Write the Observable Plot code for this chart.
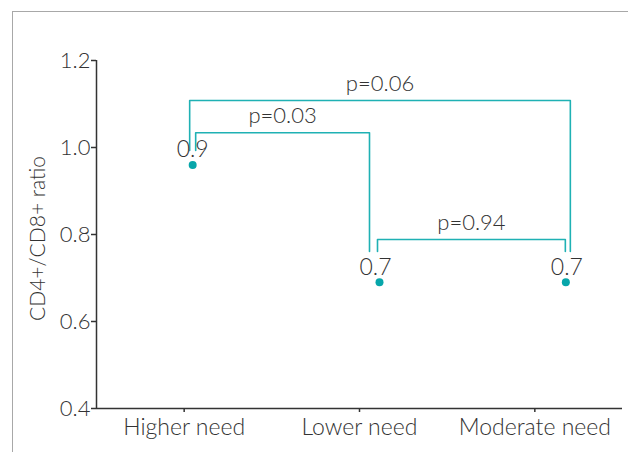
<!DOCTYPE html>
<html>
<head>
<meta charset="utf-8">
<script src="https://cdn.jsdelivr.net/npm/d3@7"></script>
<script src="https://cdn.jsdelivr.net/npm/@observablehq/plot@0.6"></script>
<style>
  html, body { margin: 0; padding: 0; background: #fff; }
  #wrap { position: relative; width: 628px; height: 452px; overflow: hidden; }
  #frame { position: absolute; left: 12px; top: 11px; width: 700px; height: 500px;
           border-left: 1.5px solid #a8a8a8; border-top: 1.5px solid #a8a8a8; }
  #chart { position: absolute; left: 0; top: 0; }
  svg { font-family: Lato, "Open Sans", sans-serif; font-weight: 300; }
</style>
</head>
<body>
<div id="wrap"><div id="frame"></div><div id="chart"></div></div>
<script>
// ---- data ----
const categories = ["Higher need", "Lower need", "Moderate need"];
const ratios = [0.96, 0.69, 0.69];
const ratioLabels = ["0.9", "0.7", "0.7"];
const yTicks = [0.4, 0.6, 0.8, 1.0, 1.2];
const yTickLabels = ["0.4", "0.6", "0.8", "1.0", "1.2"];
// comparisons: from/to category index, bracket height, leg bottom, p-value text
const cmpFrom = [0, 0, 1];
const cmpTo = [1, 2, 2];
const cmpTop = [1.034, 1.108, 0.7885];
const cmpLegBottomFrom = [0.993, 0.993, 0.761];
const cmpLegBottomTo = [0.761, 0.761, 0.761];
const cmpLabels = ["p=0.03", "p=0.06", "p=0.94"];

// ---- layout (pixel nudges, converted through the x scale) ----
const bandPx = 175.3;
const pointShiftPx = [8.5, 20, 31];
const labelShiftPx = [0, -4, 1];
const legShiftFromPx = [11.5, 5.5, 18];
const legShiftToPx = [10, 35.5, 30.5];
const teal = "#1fb1b4";
const ink = "#333333";

const points = categories.map((c, i) => ({i, x: i + pointShiftPx[i] / bandPx, y: ratios[i], label: ratioLabels[i],
  lx: i + (pointShiftPx[i] + labelShiftPx[i]) / bandPx}));

const paths = [];
const pLabels = [];
cmpLabels.forEach((p, k) => {
  const xa = cmpFrom[k] + legShiftFromPx[k] / bandPx;
  const xb = cmpTo[k] + legShiftToPx[k] / bandPx;
  paths.push({k, x: xa, y: cmpLegBottomFrom[k]});
  paths.push({k, x: xa, y: cmpTop[k]});
  paths.push({k, x: xb, y: cmpTop[k]});
  paths.push({k, x: xb, y: cmpLegBottomTo[k]});
  pLabels.push({x: (xa + xb) / 2, y: cmpTop[k], text: p});
});

const chart = Plot.plot({
  width: 628,
  height: 452,
  marginLeft: 96,
  marginRight: 6,
  marginTop: 60,
  marginBottom: 44,
  style: {fontSize: "22px", color: ink, background: "transparent", overflow: "visible"},
  x: {type: "linear", domain: [-0.5, 2.5]},
  y: {domain: [0.4, 1.2]},
  marks: [
    Plot.axisY({ticks: yTicks, tickFormat: (d, i) => yTickLabels[i], tickSize: 5, tickPadding: 1,
      fontSize: 22, label: null, stroke: ink, fill: ink, strokeWidth: 1.5}),
    Plot.text(["CD4+/CD8+ ratio"], {frameAnchor: "left", textAnchor: "middle", dx: -58, dy: 4, rotate: -90, fontSize: 21, fill: ink}),
    Plot.axisX({ticks: [0, 1, 2], tickFormat: i => categories[i], tickSize: 4, tickPadding: 6,
      fontSize: 23, label: null, stroke: ink, fill: ink, strokeWidth: 1.5}),
    Plot.ruleY([0.4], {stroke: ink, strokeWidth: 1.5}),
    Plot.ruleX([-0.5], {stroke: ink, strokeWidth: 1.5, y1: 0.4, y2: 1.2}),
    Plot.line(paths, {x: "x", y: "y", z: "k", stroke: teal, strokeWidth: 1.6, curve: "linear"}),
    Plot.text(pLabels, {x: "x", y: "y", text: "text", dy: -17, fontSize: 22, fill: ink}),
    Plot.dot(points, {x: "x", y: "y", r: 4, fill: "#07a6aa", stroke: "none"}),
    Plot.text(points, {x: "lx", y: "y", text: "label", dy: -15, fontSize: 23, fill: ink})
  ]
});
document.getElementById("chart").appendChild(chart);
</script>
</body>
</html>
